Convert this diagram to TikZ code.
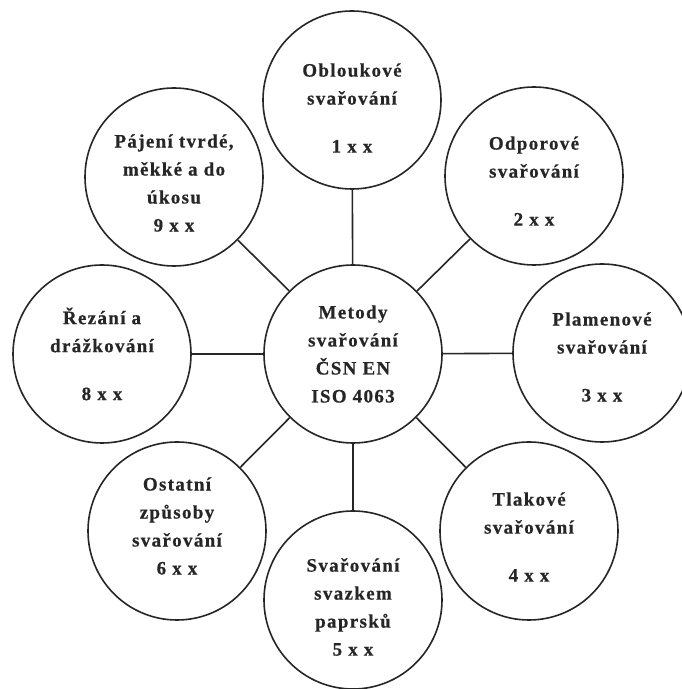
\documentclass[tikz,border=0pt]{standalone}
\usepackage{fontspec}
\setmainfont{Liberation Serif}[LetterSpace=7,BoldFeatures={FakeBold=0.6}]
\usetikzlibrary{calc}
\begin{document}
\begin{tikzpicture}[x=1pt,y=1pt,
  bub/.style={circle,draw=black!85,line width=1.6pt,minimum size=178pt,inner sep=0pt},
  lbl/.style={align=center,inner sep=0pt,font=\bfseries\fontsize{19}{28}\selectfont,text=black!85},
  link/.style={draw=black!85,line width=1.6pt}]
\useasboundingbox (0,0) rectangle (682,689);
\clip (0,0) rectangle (682,689);
\fill[white] (0,0) rectangle (682,689);
\node[bub] (c) at (353,335) {};
\node[bub] (n1) at (352,589) {};
\node[bub] (n2) at (534,513) {};
\node[bub] (n3) at (602,336) {};
\node[bub] (n4) at (529,158) {};
\node[bub] (n5) at (353,89) {};
\node[bub] (n6) at (177,158) {};
\node[bub] (n8) at (102,335) {};
\node[bub] (n9) at (174,512) {};
\node[lbl] (tc) at ($(c)+(0,0)$) {Metody\\svařování\\ČSN EN\\ISO 4063};
\node[lbl] (t1) at ($(n1)+(0,-8)$) {Obloukové\\svařování\\[20pt]1 x x};
\node[lbl] (t2) at ($(n2)+(0,-5)$) {Odporové\\svařování\\[20pt]2 x x};
\node[lbl] (t3) at ($(n3)+(0,-4)$) {Plamenové\\svařování\\[20pt]3 x x};
\node[lbl] (t4) at ($(n4)+(0,-6)$) {Tlakové\\svařování\\[20pt]4 x x};
\node[lbl] (t5) at ($(n5)+(0,-7)$) {Svařování\\svazkem\\paprsků\\5 x x};
\node[lbl] (t6) at ($(n6)+(0,5)$) {Ostatní\\způsoby\\svařování\\6 x x};
\node[lbl] (t8) at ($(n8)+(0,0)$) {Řezání a\\drážkování\\[20pt]8 x x};
\node[lbl] (t9) at ($(n9)+(0,-6)$) {Pájení tvrdé,\\měkké a do\\úkosu\\9 x x};
\foreach \n in {n1,n2,n3,n4,n5,n6,n8,n9}{\draw[link] (c) -- (\n);}
\end{tikzpicture}
\end{document}
